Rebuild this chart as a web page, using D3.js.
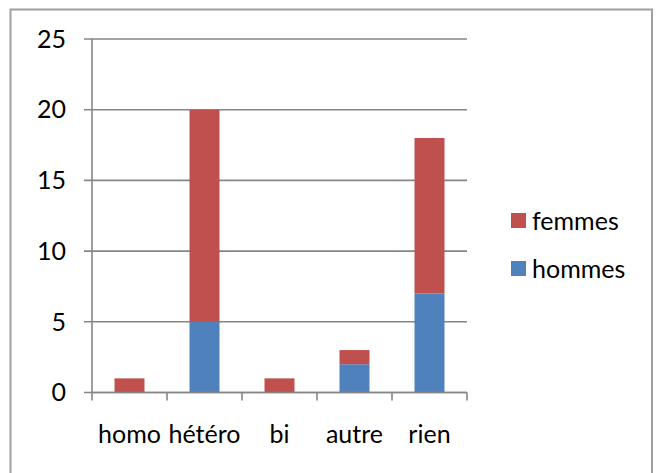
<!DOCTYPE html>
<html><head><meta charset="utf-8">
<script src="https://cdn.jsdelivr.net/npm/d3@7"></script>
<style>body{margin:0;background:#fff}svg{display:block}</style>
</head><body>
<script>
const categories = ["homo", "hétéro", "bi", "autre", "rien"];
const hommes = [0, 5, 0, 2, 7];
const femmes = [1, 15, 1, 1, 11];
const seriesNames = ["hommes", "femmes"];
const seriesColors = ["#4F81BD", "#C0504D"];
const yTicks = [0, 5, 10, 15, 20, 25];

(function () {
const W = 656, H = 473;
const svg = d3.select("body").append("svg").attr("width", W).attr("height", H);
svg.append("rect").attr("x", 10.5).attr("y", 9.5).attr("width", 641.5).attr("height", 470)
  .attr("fill", "none").attr("stroke", "#a0a0a0").attr("stroke-width", 2);

const pLeft = 92, pRight = 467, pTop = 39, pBottom = 392.5;
const x = d3.scaleBand().domain(categories).range([pLeft, pRight]).paddingInner(0.6).paddingOuter(0.3);
const y = d3.scaleLinear().domain([0, 25]).range([pBottom, pTop]);
const font = "Lato, 'Open Sans', sans-serif";
const fs = 25;
const gridColor = "#868686";

svg.append("g").selectAll("line").data(yTicks).join("line")
  .attr("x1", pLeft - 8).attr("x2", pRight)
  .attr("y1", d => y(d)).attr("y2", d => y(d))
  .attr("stroke", gridColor).attr("stroke-width", 1.6);

const table = categories.map((c, i) => ({cat: c, hommes: hommes[i], femmes: femmes[i]}));
const stack = d3.stack().keys(seriesNames)(table);
svg.append("g").selectAll("g").data(stack).join("g")
  .attr("fill", (d, i) => seriesColors[i])
  .selectAll("rect").data(d => d).join("rect")
  .attr("x", d => x(d.data.cat)).attr("width", x.bandwidth())
  .attr("y", d => y(d[1])).attr("height", d => y(d[0]) - y(d[1]));

svg.append("line").attr("x1", pLeft).attr("x2", pLeft).attr("y1", pTop).attr("y2", pBottom)
  .attr("stroke", gridColor).attr("stroke-width", 1.6);
svg.append("line").attr("x1", pLeft).attr("x2", pRight).attr("y1", pBottom).attr("y2", pBottom)
  .attr("stroke", gridColor).attr("stroke-width", 1.6);
const step = (pRight - pLeft) / categories.length;
const tickXs = d3.range(categories.length + 1).map(i => pLeft + i * step);
svg.append("g").selectAll("line").data(tickXs).join("line")
  .attr("x1", d => d).attr("x2", d => d).attr("y1", pBottom).attr("y2", pBottom + 8)
  .attr("stroke", gridColor).attr("stroke-width", 1.6);

svg.append("g").selectAll("text").data(yTicks).join("text")
  .attr("x", 66).attr("y", d => y(d)).attr("dy", "0.35em")
  .attr("text-anchor", "end").attr("font-family", font).attr("font-size", fs).attr("fill", "#000")
  .text(d => d);

svg.append("g").selectAll("text").data(categories).join("text")
  .attr("x", d => x(d) + x.bandwidth() / 2).attr("y", 443)
  .attr("text-anchor", "middle").attr("font-family", font).attr("font-size", fs).attr("fill", "#000")
  .text(d => d);

const legendItems = [{name: "femmes", color: seriesColors[1], y: 221}, {name: "hommes", color: seriesColors[0], y: 269}];
const lg = svg.append("g").selectAll("g").data(legendItems).join("g");
lg.append("rect").attr("x", 511).attr("y", d => d.y - 8).attr("width", 15).attr("height", 15).attr("fill", d => d.color);
lg.append("text").attr("x", 532).attr("y", d => d.y).attr("dy", "0.35em")
  .attr("font-family", font).attr("font-size", fs).attr("fill", "#000").text(d => d.name);
})();
</script>
</body></html>
